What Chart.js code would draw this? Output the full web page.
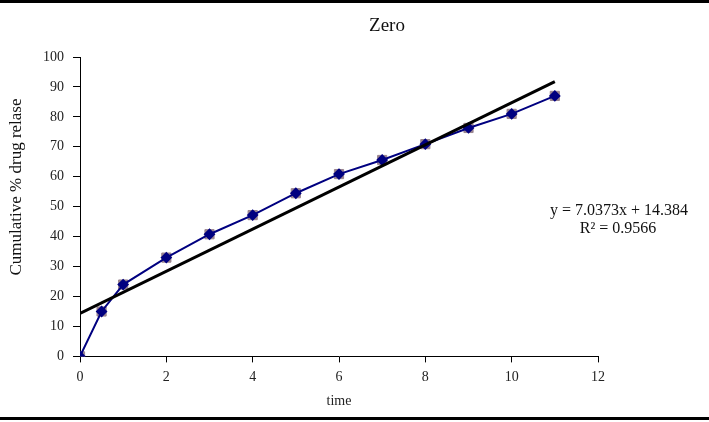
<!DOCTYPE html>
<html>
<head>
<meta charset="utf-8">
<script src="https://cdn.jsdelivr.net/npm/chart.js@4.4.1/dist/chart.umd.min.js"></script>
<style>
    html, body { margin: 0; padding: 0; background: #fff; }
    #wrap {
        position: relative;
        width: 709px;
        height: 422px;
    }
    #wrap::before, #wrap::after {
        content: "";
        position: absolute;
        left: 0;
        width: 709px;
        height: 3px;
        background: #000;
        z-index: 2;
    }
    #wrap::before { top: 0; }
    #wrap::after { top: 417px; }
</style>
</head>
<body>
<div id="wrap">
    <canvas id="zeroChart" width="709" height="422"></canvas>
</div>
<script>
// data
const times = [0, 0.5, 1, 2, 3, 4, 5, 6, 7, 8, 9, 10, 11];
const release = [0, 15, 24, 33, 40.8, 47.2, 54.5, 60.9, 65.6, 70.9, 76.3, 81, 87];
const xTicks = [0, 2, 4, 6, 8, 10, 12];
const yTicks = [0, 10, 20, 30, 40, 50, 60, 70, 80, 90, 100];

// linear trendline as printed on the chart
const fitSlope = 7.0373;
const fitIntercept = 14.384;
const fitRange = [0, 11];

const serif = "'Liberation Serif', 'Times New Roman', serif";

const points = times.map((t, i) => ({ x: t, y: release[i] }));
const fitLine = fitRange.map(t => ({ x: t, y: fitSlope * t + fitIntercept }));

// title, rotated y label and the trendline equation
const textPlugin = {
    id: 'extraText',
    afterDraw(chart) {
        const c = chart.ctx;
        c.save();
        c.fillStyle = '#111';
        c.textAlign = 'center';
        c.textBaseline = 'alphabetic';
        c.font = '19px ' + serif;
        c.fillText('Zero', 387, 31);
        c.font = '16px ' + serif;
        c.fillText('y = 7.0373x + 14.384', 619, 215);
        c.fillText('R\u00b2 = 0.9566', 618, 233);
        c.translate(17, 187);
        c.rotate(-Math.PI / 2);
        c.textBaseline = 'middle';
        c.font = '17px ' + serif;
        c.fillText('Cumulative % drug relase', 0, 0);
        c.restore();
    }
};

new Chart(document.getElementById('zeroChart'), {
    type: 'scatter',
    data: {
        datasets: [
            {
                label: 'Linear',
                data: fitLine,
                showLine: true,
                borderColor: '#000',
                borderWidth: 3,
                pointRadius: 0,
                order: 1
            },
            {
                label: 'Release',
                data: points,
                showLine: true,
                borderColor: '#000080',
                borderWidth: 2,
                pointStyle: 'rectRot',
                pointRadius: 4.5,
                pointBackgroundColor: '#000080',
                pointBorderColor: '#000080',
                order: 2
            },
            {
                label: 'Markers',
                data: points,
                showLine: false,
                pointStyle: 'rect',
                pointRadius: 6.5,
                pointBackgroundColor: '#9a8590',
                pointBorderColor: '#9a8590',
                order: 3
            }
        ]
    },
    options: {
        responsive: false,
        animation: false,
        layout: { padding: { top: 57, right: 111, bottom: 12, left: 0 } },
        plugins: {
            legend: { display: false },
            tooltip: { enabled: false }
        },
        scales: {
            x: {
                type: 'linear',
                min: 0,
                max: 12,
                afterBuildTicks: s => { s.ticks = xTicks.map(v => ({ value: v })); },
                border: { display: true, color: '#000', width: 1 },
                grid: { drawOnChartArea: false, drawTicks: true, tickLength: 6, color: '#000' },
                ticks: { color: '#222', font: { family: serif, size: 14 }, padding: 7 },
                title: { display: true, text: 'time', color: '#222', font: { family: serif, size: 14 }, padding: { top: 0, bottom: 0 } }
            },
            y: {
                type: 'linear',
                min: 0,
                max: 100,
                afterBuildTicks: s => { s.ticks = yTicks.map(v => ({ value: v })); },
                afterFit: s => { s.width = 80; },
                border: { display: true, color: '#000', width: 1 },
                grid: { drawOnChartArea: false, drawTicks: true, tickLength: 7, color: '#000' },
                ticks: { color: '#222', font: { family: serif, size: 14 }, padding: 9 }
            }
        }
    },
    plugins: [textPlugin]
});
</script>
</body>
</html>
